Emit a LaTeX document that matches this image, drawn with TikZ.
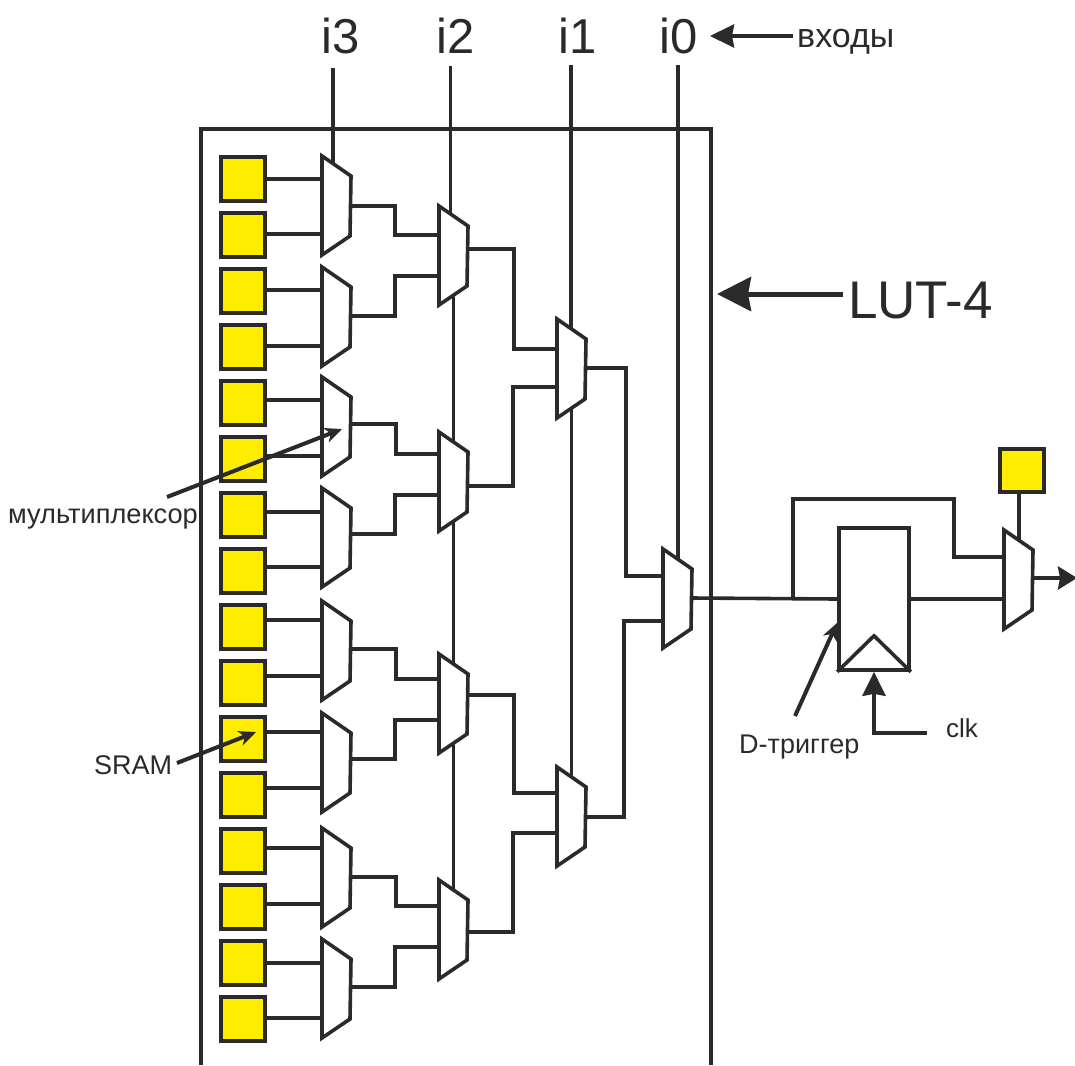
\documentclass[tikz,border=0pt]{standalone}
\usepackage{fontspec}
\setmainfont{Liberation Sans}
\usetikzlibrary{arrows.meta,calc}
\definecolor{lutInk}{HTML}{2B2A29}
\definecolor{lutYellow}{HTML}{FFED00}
\tikzset{
  lutwire/.style={draw=lutInk,line width=3.6pt},
  lutcell/.style={rectangle,draw=lutInk,fill=lutYellow,line width=3.8pt,
                  minimum size=43.5pt,inner sep=0pt},
  lutmux/.style={rectangle,minimum width=29pt,minimum height=99pt,
                 inner sep=0pt,outer sep=0pt,anchor=north west},
  lutmuxline/.style={draw=lutInk,fill=white,line width=3.6pt},
  lutdff/.style={rectangle,draw=lutInk,fill=white,line width=3.6pt,
                 minimum width=70pt,minimum height=142pt,inner sep=0pt},
  lutbig/.style={text=lutInk,anchor=base west,inner sep=0pt,
                 font=\fontsize{49pt}{49pt}\selectfont},
  lutsmall/.style={text=lutInk,anchor=base west,inner sep=0pt,
                   font=\fontsize{27pt}{27pt}\selectfont},
  lutpointer/.style={draw=lutInk,line width=4pt,
                     -{Stealth[length=17pt,width=15pt,inset=5pt]}},
  lutarrow/.style={draw=lutInk,line width=4pt,
                   -{Stealth[length=24pt,width=23pt,inset=2pt]}}
}
\begin{document}
\begin{tikzpicture}[x=1pt,y=-1pt]
    \useasboundingbox (0,0) rectangle (1075,1065);

    \node[lutbig] (i3) at (321,53) {i3};
    \node[lutbig] (i2) at (436,53) {i2};
    \node[lutbig] (i1) at (558,53) {i1};
    \node[lutbig] (i0) at (659,53) {i0};
    \node[lutsmall,font=\fontsize{34pt}{34pt}\selectfont] (inputs) at (797,48) {входы};
    \node[lutbig,font=\fontsize{53pt}{53pt}\selectfont] (lutname) at (848,318) {LUT-4};
    \node[lutsmall,font=\fontsize{27.2pt}{27.2pt}\selectfont] (muxname) at (8,523) {мультиплексор};
    \node[lutsmall] (sramname) at (94,774) {SRAM};
    \node[lutsmall] (dffname) at (739,753) {D-триггер};
    \node[lutsmall,font=\fontsize{26pt}{26pt}\selectfont] (clkname) at (946,737) {clk};

    \coordinate (i3-top) at (333,68);
    \coordinate (i2-top) at (450.5,66);
    \coordinate (i1-top) at (571,65);
    \coordinate (i0-top) at (678,65);
    \coordinate (frame-a) at (201,1065);
    \coordinate (frame-b) at (711,1065);
    \draw[lutwire,line width=4pt] (frame-a) -- (201,129) -- (711,129) -- (frame-b);

    \foreach \nm/\xx/\yy/\off in {a1/322/156/50,a2/322/267/49,a3/322/377/47,a4/322/488/46,
        a5/322/601/48,a6/322/713/46,a7/322/828/49,a8/322/939/48,
        b1/439/206/43,b2/439/432/54,b3/439/654/41,b4/439/880/52,
        c1/557/319/49,c2/557/767/50,d1/663/549/49,e1/1004/530/48}{
      \node[lutmux] (\nm) at (\xx,\yy) {};
      \coordinate (\nm-out) at ($(\nm.north east)+(-0.5,\off)$);
    }

    \draw[lutwire] (i3-top) -- (i3-top |- a1.center);
    \draw[lutwire] (i2-top) -- (i2-top |- b1.center);
    \draw[lutwire] (b1.center) -- (b4.center);
    \draw[lutwire] (i1-top) -- (i1-top |- c1.center);
    \draw[lutwire] (c1.center) -- (c2.center);
    \draw[lutwire] (i0-top) -- (i0-top |- d1.center);

    \foreach \i/\m/\wy [evaluate=\i as \yy using 179+56*(\i-1)] in {1/a1/179,2/a1/234,3/a2/290,4/a2/346,
        5/a3/400,6/a3/456,7/a4/512,8/a4/567,9/a5/620,10/a5/676,11/a6/732,12/a6/788,
        13/a7/848,14/a7/904,15/a8/963,16/a8/1018}{
      \node[lutcell] (cell\i) at (243,\yy) {};
      \draw[lutwire] (cell\i.east |- 243,\wy) -- (\m.west |- 243,\wy);
    }
    \node[lutcell] (selcell) at (1022,470.5) {};
    \draw[lutwire] ($(selcell.south)+(-3,0)$) -- ($(selcell.south |- e1.center)+(-3,0)$);

    \foreach \src/\dst/\mid/\yy in {a1/b1/395/235,a2/b1/395/276,a3/b2/396/454,a4/b2/395/495,
        a5/b3/396/679,a6/b3/395/720,a7/b4/396/906,a8/b4/395/947,
        b1/c1/514/349,b2/c1/513/387,b3/c2/514/793,b4/c2/513/833,
        c1/d1/626/576,c2/d1/624/621}{
      \draw[lutwire] (\src-out) -| (\mid,\yy) -- (\dst.west |- \mid,\yy);
    }

    \foreach \nm in {a1,a2,a3,a4,a5,a6,a7,a8,b1,b2,b3,b4,c1,c2,d1,e1}{
      \draw[lutmuxline] (\nm.north west) -- ++(29,20) -- ++(-1,60) -- (\nm.south west) -- cycle;
    }

    \node[lutdff] (dff) at (874,599) {};
    \draw[lutwire] (dff.south west) -- ($(dff.south)+(0,-36)$) -- (dff.south east);
    \coordinate (tap) at (793,599);
    \draw[lutwire] (d1-out) -- (dff.west);
    \draw[lutwire] (tap) |- (954,499) |- (e1.west |- 954,557);
    \draw[lutwire] (dff.east) -- (e1.west |- dff.east);

    \coordinate (out-end) at (1077,578);
    \draw[lutarrow,-{Stealth[length=19pt,width=23pt,inset=2pt]}] (e1-out) -- (out-end);
    \coordinate (clk-tail) at (927,733);
    \draw[lutarrow] (clk-tail) -| (dff.south);

    \coordinate (inputs-tail) at (793,36);
    \coordinate (inputs-tip) at (710,36);
    \draw[lutarrow] (inputs-tail) -- (inputs-tip);
    \coordinate (lut-tail) at (843,294);
    \coordinate (lut-tip) at (717,294);
    \draw[lutarrow,line width=5pt,-{Stealth[length=34pt,width=34pt,inset=3pt]}] (lut-tail) -- (lut-tip);

    \coordinate (muxname-tail) at (167,497);
    \coordinate (muxname-tip) at (342,429);
    \draw[lutpointer] (muxname-tail) -- (muxname-tip);
    \coordinate (sramname-tail) at (177,763);
    \coordinate (sramname-tip) at (256,732);
    \draw[lutpointer] (sramname-tail) -- (sramname-tip);
    \coordinate (dffname-tail) at (795,716);
    \coordinate (dffname-tip) at (837,623);
    \draw[lutpointer] (dffname-tail) -- (dffname-tip);
  \end{tikzpicture}
\end{document}
